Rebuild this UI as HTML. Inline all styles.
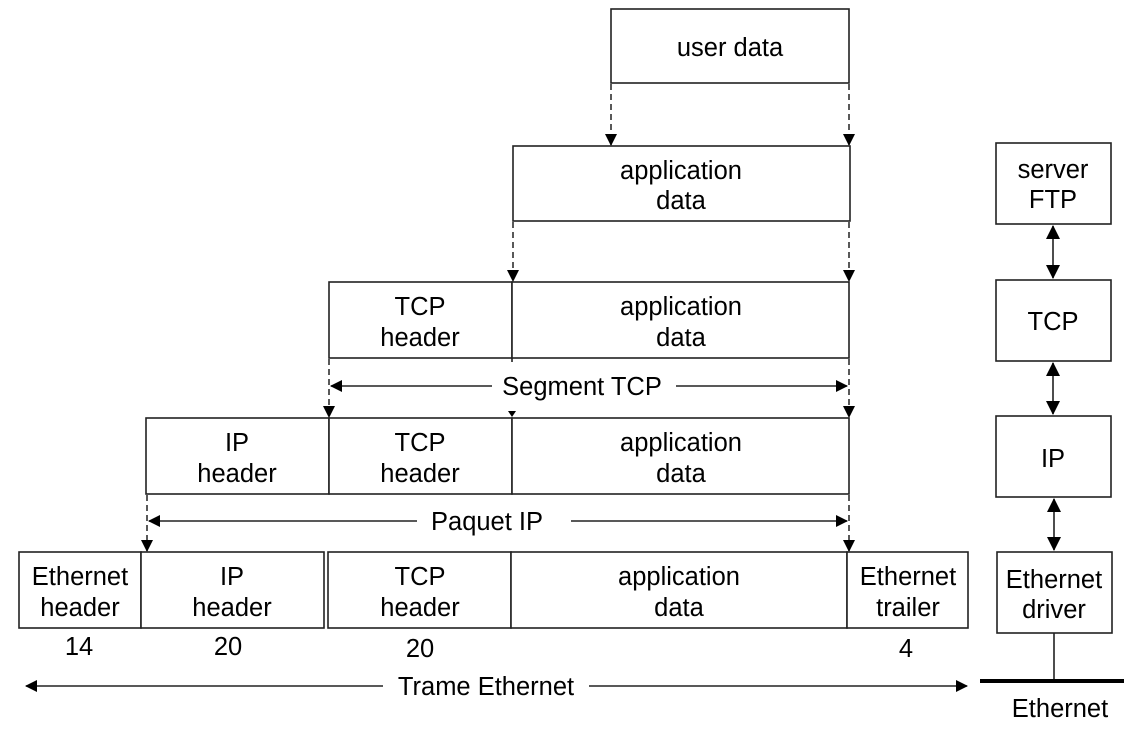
<!DOCTYPE html>
<html><head><meta charset="utf-8"><style>
html,body{margin:0;padding:0;background:#fff}
svg{display:block}
text{font-family:"Liberation Sans",sans-serif;font-size:25.5px;fill:#000;text-anchor:middle}
.b{fill:#fff;stroke:#222;stroke-width:1.6}
.d{stroke:#222;stroke-width:1.5;stroke-dasharray:6,4;fill:none}
.s{stroke:#222;stroke-width:1.6;fill:none}
</style></head><body>
<svg width="1124" height="736" viewBox="0 0 1124 736">
<defs>
<marker id="a" markerWidth="12" markerHeight="12" refX="11" refY="6" orient="auto" markerUnits="userSpaceOnUse"><path d="M0,0 L12,6 L0,12 z" fill="#000"/></marker>
<marker id="a2" markerWidth="14" markerHeight="14" refX="13" refY="7" orient="auto-start-reverse" markerUnits="userSpaceOnUse"><path d="M0,0 L14,7 L0,14 z" fill="#000"/></marker>
</defs>
<rect class="b" x="611" y="9" width="238" height="74"/>
<text x="730" y="56">user data</text>
<line class="d" x1="611" y1="84" x2="611" y2="145" marker-end="url(#a)"/>
<line class="d" x1="849" y1="84" x2="849" y2="145" marker-end="url(#a)"/>
<rect class="b" x="513" y="146" width="337" height="75"/>
<text x="681" y="179">application</text><text x="681" y="209">data</text>
<line class="d" x1="513" y1="222" x2="513" y2="281" marker-end="url(#a)"/>
<line class="d" x1="849" y1="222" x2="849" y2="281" marker-end="url(#a)"/>
<rect class="b" x="329" y="282" width="183" height="76"/>
<rect class="b" x="512" y="282" width="337" height="76"/>
<line class="s" x1="512" y1="358" x2="512" y2="362"/>
<text x="420" y="315">TCP</text><text x="420" y="346">header</text>
<text x="681" y="315">application</text><text x="681" y="346">data</text>
<line class="d" x1="329" y1="359" x2="329" y2="417" marker-end="url(#a)"/>
<line class="d" x1="849" y1="359" x2="849" y2="417" marker-end="url(#a)"/>
<path d="M508,411 L516,411 L512,417 z" fill="#000"/>
<line class="s" x1="492" y1="386" x2="331" y2="386" marker-end="url(#a)"/>
<line class="s" x1="676" y1="386" x2="847" y2="386" marker-end="url(#a)"/>
<text x="582" y="395">Segment TCP</text>
<rect class="b" x="146" y="418" width="183" height="76"/>
<rect class="b" x="329" y="418" width="183" height="76"/>
<rect class="b" x="512" y="418" width="337" height="76"/>
<text x="237" y="451">IP</text><text x="237" y="482">header</text>
<text x="420" y="451">TCP</text><text x="420" y="482">header</text>
<text x="681" y="451">application</text><text x="681" y="482">data</text>
<line class="d" x1="147" y1="495" x2="147" y2="551" marker-end="url(#a)"/>
<line class="d" x1="849" y1="495" x2="849" y2="551" marker-end="url(#a)"/>
<line class="s" x1="417" y1="521" x2="149" y2="521" marker-end="url(#a)"/>
<line class="s" x1="571" y1="521" x2="847" y2="521" marker-end="url(#a)"/>
<text x="487" y="530">Paquet IP</text>
<rect class="b" x="19" y="552" width="122" height="76"/>
<rect class="b" x="141" y="552" width="183" height="76"/>
<rect class="b" x="328" y="552" width="183" height="76"/>
<rect class="b" x="511" y="552" width="336" height="76"/>
<rect class="b" x="847" y="552" width="121" height="76"/>
<text x="80" y="585">Ethernet</text><text x="80" y="616">header</text>
<text x="232" y="585">IP</text><text x="232" y="616">header</text>
<text x="420" y="585">TCP</text><text x="420" y="616">header</text>
<text x="679" y="585">application</text><text x="679" y="616">data</text>
<text x="908" y="585">Ethernet</text><text x="908" y="616">trailer</text>
<text x="79" y="655">14</text><text x="228" y="655">20</text><text x="420" y="657">20</text><text x="906" y="657">4</text>
<line class="s" x1="383" y1="686" x2="26" y2="686" marker-end="url(#a)"/>
<line class="s" x1="589" y1="686" x2="967" y2="686" marker-end="url(#a)"/>
<text x="486" y="695">Trame Ethernet</text>
<rect class="b" x="996" y="143" width="115" height="81"/>
<text x="1053" y="178">server</text><text x="1053" y="208">FTP</text>
<rect class="b" x="996" y="280" width="115" height="81"/>
<text x="1053" y="330">TCP</text>
<rect class="b" x="996" y="416" width="115" height="81"/>
<text x="1053" y="467">IP</text>
<rect class="b" x="997" y="552" width="115" height="81"/>
<text x="1054" y="588">Ethernet</text><text x="1054" y="618">driver</text>
<line class="s" x1="1053" y1="226" x2="1053" y2="278" marker-start="url(#a2)" marker-end="url(#a2)"/>
<line class="s" x1="1053" y1="363" x2="1053" y2="414" marker-start="url(#a2)" marker-end="url(#a2)"/>
<line class="s" x1="1054" y1="499" x2="1054" y2="550" marker-start="url(#a2)" marker-end="url(#a2)"/>
<line class="s" x1="1054" y1="633" x2="1054" y2="681"/>
<rect x="980" y="679" width="144" height="4" fill="#000"/>
<text x="1060" y="717">Ethernet</text>
</svg>
</body></html>
